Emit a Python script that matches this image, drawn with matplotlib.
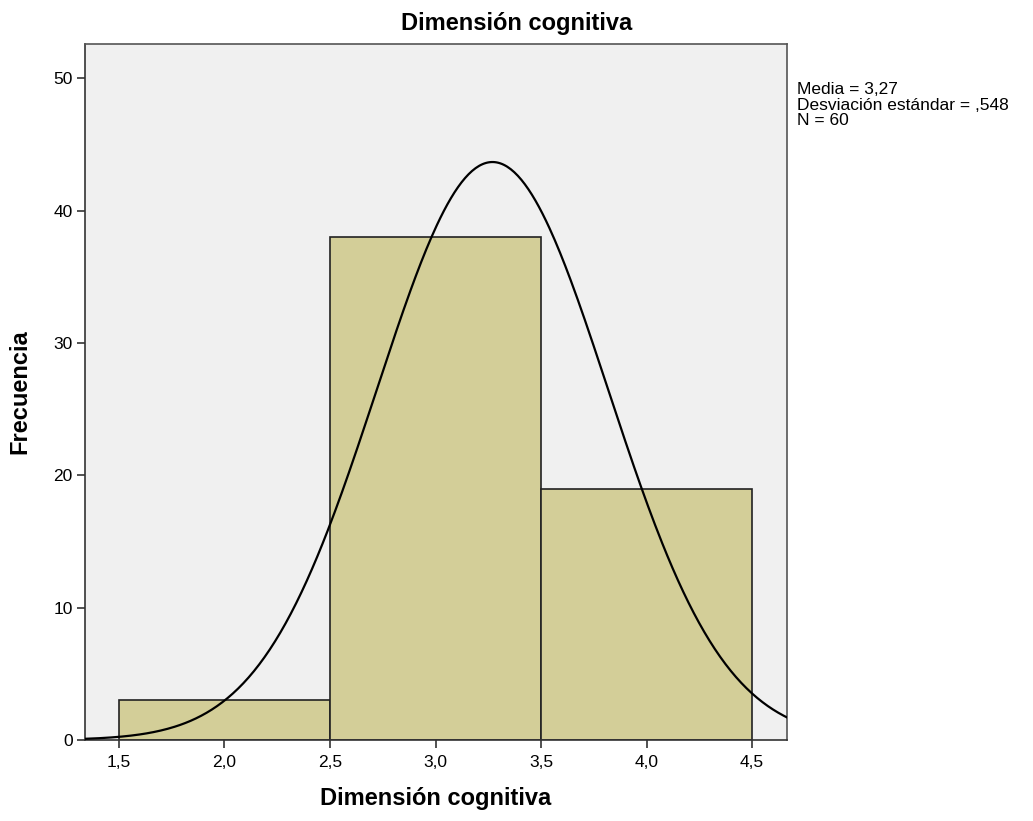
import numpy as np
import matplotlib.pyplot as plt

plt.rcParams['font.family'] = ['Liberation Sans', 'DejaVu Sans']

# histogram data
bin_edges = [1.5, 2.5, 3.5, 4.5]
counts = [3, 38, 19]
media = 3.27
desv = 0.548
n = 60
xticks = [1.5, 2.0, 2.5, 3.0, 3.5, 4.0, 4.5]
xtick_labels = ['1,5', '2,0', '2,5', '3,0', '3,5', '4,0', '4,5']
yticks = [0, 10, 20, 30, 40, 50]

fig = plt.figure(figsize=(10.33, 8.21), dpi=100)
ax = fig.add_axes([0.0823, 0.0987, 0.6796, 0.8477])
ax.set_facecolor('#f0f0f0')

lefts = bin_edges[:-1]
widths = np.diff(bin_edges)
ax.bar(lefts, counts, width=widths, align='edge', color='#d3ce98',
       edgecolor='#222222', linewidth=1.2, zorder=2)

# normal curve scaled to counts
xmin, xmax = 1.339, 4.666
x = np.linspace(xmin, xmax, 400)
bw = widths[0]
y = n * bw / (desv * np.sqrt(2 * np.pi)) * np.exp(-0.5 * ((x - media) / desv) ** 2)
ax.plot(x, y, color='black', linewidth=1.6, zorder=3)

ax.set_xlim(xmin, xmax)
ax.set_ylim(0, 52.6)
ax.set_xticks(xticks)
ax.set_xticklabels(xtick_labels)
ax.set_yticks(yticks)
ax.tick_params(direction='out', length=6, width=1.2, labelsize=12.5, color='#333333')
ax.tick_params(axis='x', pad=5)
ax.tick_params(axis='y', pad=3)
for side in ['top', 'right']:
    ax.spines[side].set_color('#555555')
for side in ['left', 'bottom']:
    ax.spines[side].set_color('#333333')
for s in ax.spines.values():
    s.set_linewidth(1.2)

fig.text(0.5, 0.963, 'Dimensión cognitiva', fontsize=17, fontweight='bold',
         ha='center', va='baseline')
ax.set_xlabel('Dimensión cognitiva', fontsize=17, fontweight='bold', labelpad=12)
ax.set_ylabel('Frecuencia', fontsize=17, fontweight='bold', labelpad=16)

fig.text(0.7715, 0.900, 'Media = 3,27\nDesviación estándar = ,548\nN = 60',
         fontsize=12.5, va='top', ha='left', linespacing=1.05)

fig.savefig('out.png', dpi=100)
